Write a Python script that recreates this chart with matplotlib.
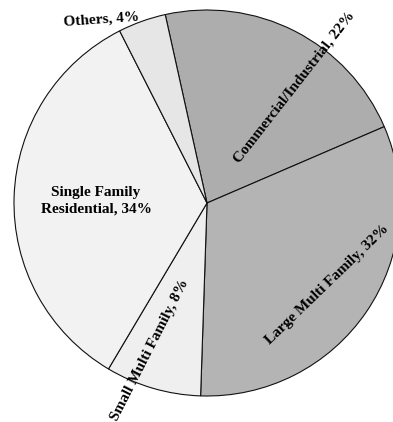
import matplotlib
matplotlib.use("Agg")
import matplotlib.pyplot as plt

# Share of demand by customer class (percent)
categories = ["Commercial/Industrial", "Large Multi Family", "Small Multi Family",
              "Single Family Residential", "Others"]
shares = [22, 32, 8, 34, 4]
colors = ["#adadad", "#b4b4b4", "#efefef", "#f2f2f2", "#e6e6e6"]

W, H = 393, 422
fig = plt.figure(figsize=(W / 100, H / 100), dpi=100)
ax = fig.add_axes([0, 0, 1, 1])

cx, cy, r = 207, H - 203, 193
ax.pie(shares, colors=colors, startangle=102.5, counterclock=False,
       center=(cx, cy), radius=r, frame=True,
       wedgeprops=dict(edgecolor="#111111", linewidth=0.8))
ax.set_xlim(0, W)
ax.set_ylim(0, H)
ax.set_aspect("equal")
ax.axis("off")

font = dict(family="Liberation Serif", fontweight="bold", fontsize=11,
            ha="center", va="center", color="black")

labels = [f"{c}, {s}%" for c, s in zip(categories, shares)]
labels[3] = f"Single Family\nResidential, {shares[3]}%"

# label placement: (x, y from top, rotation)
placement = [(294, 87, 52), (327, 285, 44), (150, 350, 63),
             (96, 201, 0), (101, 19, 4)]
for text, (x, y, rot) in zip(labels, placement):
    ax.text(x, H - y, text, rotation=rot, rotation_mode="anchor",
            linespacing=1.4, **font)

fig.savefig("out.png", dpi=100)
